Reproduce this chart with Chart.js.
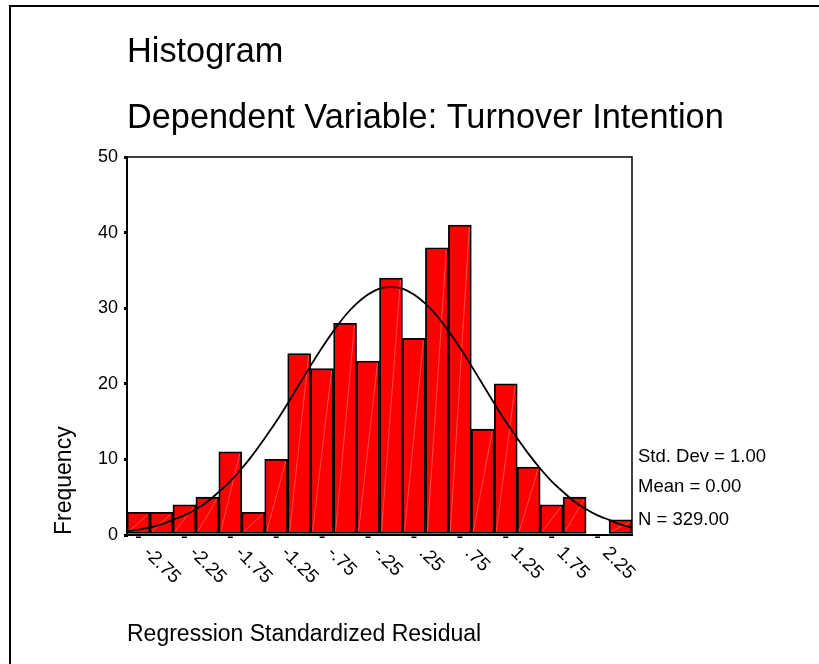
<!DOCTYPE html>
<html>
<head>
<meta charset="utf-8">
<title>Histogram</title>
<script src="https://cdn.jsdelivr.net/npm/chart.js@4.4.1/dist/chart.umd.min.js"></script>
<style>
  html, body { margin: 0; padding: 0; background: #fff; }
  #wrap { position: relative; width: 819px; height: 664px; }
</style>
</head>
<body>
<div id="wrap"><canvas id="myChart"></canvas></div>
<script>
// bin centres (width .25) and frequencies
var binCenters = [-2.75, -2.5, -2.25, -2.0, -1.75, -1.5, -1.25, -1.0, -0.75, -0.5, -0.25,
                  0, 0.25, 0.5, 0.75, 1.0, 1.25, 1.5, 1.75, 2.0, 2.25, 2.5];
var counts = [3, 3, 4, 5, 11, 3, 10, 24, 22, 28, 23, 34, 26, 38, 41, 14, 20, 9, 4, 5, 0, 2];

// labels printed under the x axis
var tickLabels = ['-2.75', '-2.25', '-1.75', '-1.25', '-.75', '-.25', '.25', '.75', '1.25', '1.75', '2.25'];

// normal curve
var curveX = [-2.875, -2.75, -2.625, -2.5, -2.375, -2.25, -2.125, -2.0, -1.875, -1.75, -1.625, -1.5,
              -1.375, -1.25, -1.125, -1.0, -0.875, -0.75, -0.625, -0.5, -0.375, -0.25, -0.125, 0,
              0.125, 0.25, 0.375, 0.5, 0.625, 0.75, 0.875, 1.0, 1.125, 1.25, 1.375, 1.5,
              1.625, 1.75, 1.875, 2.0, 2.125, 2.25, 2.375, 2.5, 2.625];
var curveY = [0.5, 0.7, 1.0, 1.4, 2.0, 2.6, 3.4, 4.4, 5.7, 7.1, 8.8, 10.7,
              12.8, 15.0, 17.4, 19.9, 22.4, 24.8, 27.0, 29.0, 30.6, 31.8, 32.6, 32.8,
              32.6, 31.8, 30.6, 29.0, 27.0, 24.8, 22.4, 19.9, 17.4, 15.0, 12.8, 10.7,
              8.8, 7.1, 5.7, 4.4, 3.4, 2.6, 2.0, 1.4, 1.0];

var titles = ['Histogram', 'Dependent Variable: Turnover Intention'];
var stats = ['Std. Dev = 1.00', 'Mean = 0.00', 'N = 329.00'];

var FONT = "'Liberation Sans', Arial, Helvetica, sans-serif";

var barPoints = binCenters.map(function (x, i) { return { x: x, y: counts[i] }; });
var curvePoints = curveX.map(function (x, i) { return { x: x, y: curveY[i] }; });

var extras = {
  id: 'extras',
  // faint diagonal streak inside every bar, like the spss export
  afterDatasetDraw: function (chart, args) {
    if (args.meta.type !== 'bar') return;
    var ctx = chart.ctx;
    ctx.save();
    ctx.strokeStyle = 'rgba(255,255,255,0.3)';
    ctx.lineWidth = 1;
    args.meta.data.forEach(function (bar) {
      var h = bar.base - bar.y;
      if (h < 4) return;
      var l = bar.x - bar.width / 2 + 2, r = bar.x + bar.width / 2 - 2;
      ctx.beginPath();
      ctx.moveTo(l, bar.base - 2);
      ctx.lineTo(r, bar.y + 2);
      ctx.stroke();
    });
    ctx.restore();
  },
  afterDraw: function (chart) {
    var ctx = chart.ctx;
    var area = chart.chartArea;
    var xs = chart.scales.x;
    ctx.save();
    ctx.fillStyle = '#000';

    // outer frame (top and left only)
    ctx.fillRect(9, 5, 819 - 9, 2);
    ctx.fillRect(9, 5, 2, 664 - 5);

    // titles
    ctx.font = '34.3px ' + FONT;
    ctx.textAlign = 'left';
    ctx.textBaseline = 'alphabetic';
    ctx.fillText(titles[0], 127, 62);
    ctx.fillText(titles[1], 127, 128);

    // top and right edges of the plot box
    ctx.strokeStyle = '#000';
    ctx.lineWidth = 1.5;
    ctx.beginPath();
    ctx.moveTo(area.left, area.top);
    ctx.lineTo(area.right, area.top);
    ctx.lineTo(area.right, area.bottom);
    ctx.stroke();

    // x tick marks and rotated labels
    ctx.font = '19px ' + FONT;
    tickLabels.forEach(function (lab) {
      var px = xs.getPixelForValue(parseFloat(lab));
      ctx.fillRect(px - 2.5, area.bottom + 1.5, 5, 1.5);
      ctx.save();
      ctx.translate(px + 8, area.bottom + 15);
      ctx.rotate(Math.PI / 4);
      ctx.textAlign = 'left';
      ctx.textBaseline = 'middle';
      ctx.fillText(lab, 0, 0);
      ctx.restore();
    });

    // summary statistics
    ctx.font = '18.5px ' + FONT;
    ctx.textAlign = 'left';
    ctx.textBaseline = 'alphabetic';
    ctx.fillText(stats[0], 638, 462);
    ctx.fillText(stats[1], 638, 492);
    ctx.fillText(stats[2], 638, 525);
    ctx.restore();
  }
};

var ctx = document.getElementById('myChart').getContext('2d');
var myChart = new Chart(ctx, {
  type: 'bar',
  data: {
    datasets: [{
      type: 'line',
      label: 'Normal',
      data: curvePoints,
      borderColor: '#000',
      borderWidth: 1.8,
      pointRadius: 0,
      tension: 0.3,
      fill: false,
      order: 0
    }, {
      type: 'bar',
      label: 'Frequency',
      data: barPoints,
      backgroundColor: '#ff0000',
      borderColor: '#000',
      borderWidth: 1.8,
      borderSkipped: false,
      barPercentage: 1,
      categoryPercentage: 1,
      order: 1
    }]
  },
  options: {
    responsive: true,
    maintainAspectRatio: false,
    animation: false,
    layout: {
      padding: { left: 47, top: 157, right: 187, bottom: 12 }
    },
    plugins: {
      legend: { display: false },
      tooltip: { enabled: false },
      title: { display: false }
    },
    scales: {
      x: {
        type: 'linear',
        min: -2.875,
        max: 2.625,
        offset: false,
        grid: { display: false, offset: false },
        border: { display: true, color: '#000', width: 2 },
        ticks: { display: false },
        title: {
          display: true,
          text: 'Regression Standardized Residual',
          align: 'start',
          color: '#000',
          font: { family: FONT, size: 23 },
          padding: { top: 4, bottom: 4 }
        },
        afterFit: function (scale) { scale.height = 117; }
      },
      y: {
        min: 0,
        max: 50,
        ticks: {
          stepSize: 10,
          color: '#000',
          padding: 6,
          font: { family: FONT, size: 18 }
        },
        grid: {
          drawOnChartArea: false,
          tickLength: 3,
          lineWidth: 3,
          color: '#000'
        },
        border: { display: true, color: '#000', width: 2 },
        title: {
          display: true,
          text: 'Frequency',
          align: 'start',
          color: '#000',
          font: { family: FONT, size: 23 },
          padding: { top: 4, bottom: 4 }
        },
        afterFit: function (scale) { scale.width = 80; }
      }
    }
  },
  plugins: [extras]
});
</script>
</body>
</html>
